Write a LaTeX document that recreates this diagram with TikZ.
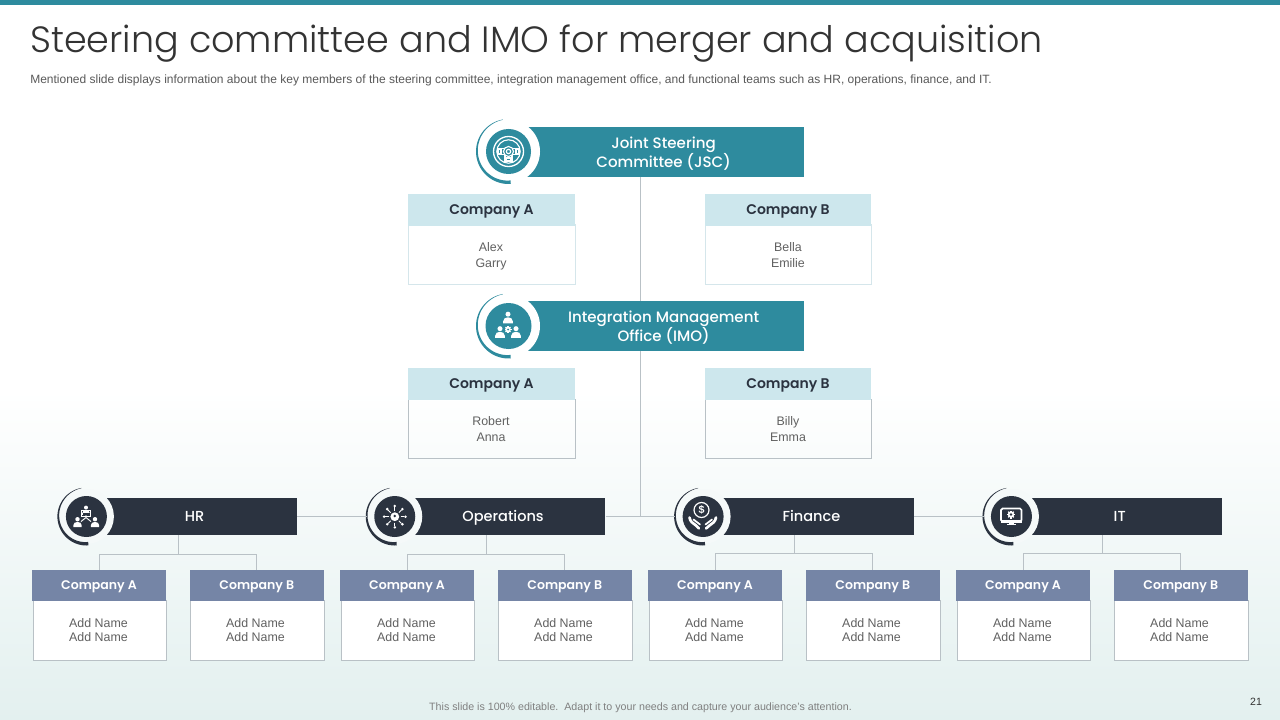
\documentclass[tikz,border=0pt]{standalone}
\usepackage{fontspec}
\setmainfont{Liberation Sans}
\newfontfamily\titlefont{Poppins Light}
\newfontfamily\headfont{Poppins SemiBold}
\newfontfamily\barfont{Poppins Medium}
\definecolor{teal}{HTML}{2E8B9E}
\definecolor{ink}{HTML}{2B3340}
\definecolor{slate}{HTML}{7585A6}
\definecolor{pale}{HTML}{CDE7ED}
\definecolor{lineg}{HTML}{B9C1C6}
\definecolor{paleline}{HTML}{D5E6EB}
\definecolor{tintbot}{HTML}{E3F0EF}
\definecolor{discbot}{HTML}{F5F9F9}
\def\px{0.75pt}
\tikzset{
  x=0.75pt,y=-0.75pt,
  conn/.style={draw=lineg,line width=0.75pt},
  barbase/.style={rectangle,inner sep=0pt,text=white,align=center},
  hdbase/.style={rectangle,inner sep=0pt,align=center},
  bodybase/.style={rectangle,inner sep=0pt,align=center,text=black!62},
  bodytop/.style={bodybase,font=\fontsize{9.3pt}{12pt}\selectfont},
  bodylow/.style={bodybase,font=\fontsize{9.3pt}{10.6pt}\selectfont},
  tophd/.style={hdbase,fill=pale,text=ink,font=\headfont\fontsize{10.5pt}{12pt}\selectfont},
  lowhd/.style={hdbase,fill=slate,text=white,font=\headfont\fontsize{9.4pt}{11pt}\selectfont},
  badgedisc/.style={circle,inner sep=0pt},
}
% zero-size text line, lowered so that its capitals are centred
\newcommand\capline[2]{\raisebox{-#1}[0pt][0pt]{#2}}
\newcommand\twoL[3]{\hspace*{#1}\capline{3.3pt}{#2}\\\hspace*{#1}\capline{3.3pt}{#3}}
\newcommand\spanbox[7]{%
  \node[#6,minimum width={(#4-#2)*\px},minimum height={(#5-#3)*\px}] (#1) at ({(#2+#4)/2},{(#3+#5)/2}) {#7};}
\newcommand\badge[8]{%
  \node[badgedisc,fill=#8,minimum size={2*#4*\px}] (#1d) at (#2,#3) {};
  \fill[#7] plot[domain=100:274,samples=40] ({#2+#6*cos(\x)},{#3-#6*sin(\x)})
    -- plot[domain=274:100,samples=40] ({#2+(#6-0.3-3.2*(\x-100)/174)*cos(\x)},{#3-(#6-0.3-3.2*(\x-100)/174)*sin(\x)}) -- cycle;
  \node[badgedisc,fill=#7,minimum size={2*#5*\px}] (#1c) at (#2,#3) {};}
\newcommand\personglyph[4]{% x y scale colour
  \begin{scope}[shift={(#1,#2)},scale=#3]
  \fill[#4] (0,-3.6) circle[radius=2.1];
  \fill[#4] (-4,4) -- (-4,2.2) .. controls (-4,0) and (-2,-1) .. (0,-1) .. controls (2,-1) and (4,0) .. (4,2.2) -- (4,4) -- cycle;
  \end{scope}}
\newcommand\cogglyph[4]{% x y r colour
  \begin{scope}[shift={(#1,#2)}]
  \foreach \a in {0,45,...,315}{\draw[#4,line width=0.9pt] (\a:#3*0.7) -- (\a:#3*1.25);}
  \fill[#4] (0,0) circle[radius=#3];
  \end{scope}}
\begin{document}
\begin{tikzpicture}
\useasboundingbox (0,0) rectangle (1280,720);
\fill[white] (0,0) rectangle (1280,720);
\shade[top color=white,bottom color=tintbot] (0,390) rectangle (1280,720);
\fill[teal] (0,0) rectangle (1280,5);

\node[anchor=base west,inner sep=0pt,text=black!80,font=\titlefont\fontsize{27.4pt}{32pt}\selectfont] (title) at (30,53) {Steering committee and IMO for merger and acquisition};
\node[anchor=west,inner sep=0pt,text=black!65,font=\fontsize{9pt}{10pt}\selectfont] (subtitle) at (30,80) {Mentioned slide displays information about the key members of the steering committee, integration management office, and functional teams such as HR, operations, finance, and IT.};
\node[inner sep=0pt,text=black!50,font=\fontsize{8pt}{9pt}\selectfont] (footer) at (640.5,708) {This slide is 100\% editable.\ \ Adapt it to your needs and capture your audience's attention.};
\node[inner sep=0pt,text=black!80,font=\fontsize{7.9pt}{9pt}\selectfont] (pageno) at (1256,702) {21};

% main bars
\spanbox{jsc}{508.5}{127}{804}{177}{barbase,fill=teal,font=\barfont\fontsize{11.3pt}{14.25pt}\selectfont}{\hspace*{11pt}\capline{4.4pt}{Joint Steering}\\\hspace*{11pt}\capline{4.4pt}{Committee (JSC)}}
\spanbox{imo}{508.5}{301}{804}{351}{barbase,fill=teal,font=\barfont\fontsize{11.3pt}{14.25pt}\selectfont}{\hspace*{11pt}\capline{4.4pt}{Integration Management}\\\hspace*{11pt}\capline{4.4pt}{Office (IMO)}}
\badge{jscb}{508.5}{151.5}{31.5}{22.5}{32.5}{teal}{white}
\badge{imob}{508.5}{326}{31.5}{23}{32.5}{teal}{white}

% top company boxes
\spanbox{jscAb}{408.5}{225}{575.5}{284.5}{bodytop,draw=paleline,fill=white,line width=0.75pt}{\twoL{-1.5pt}{Alex}{Garry}}
\spanbox{jscAh}{408}{194}{575}{226}{tophd}{\capline{3pt}{Company A}}
\spanbox{jscBb}{705.5}{225}{871.5}{284.5}{bodytop,draw=paleline,fill=white,line width=0.75pt}{\twoL{-0.75pt}{Bella}{Emilie}}
\spanbox{jscBh}{705}{194}{871}{226}{tophd}{\capline{3.6pt}{Company B}}
\spanbox{imoAb}{408.5}{399}{575.5}{458.5}{bodytop,draw=lineg,line width=0.75pt}{\twoL{-1.5pt}{Robert}{Anna}}
\spanbox{imoAh}{408}{368}{575}{400}{tophd}{\capline{3.4pt}{Company A}}
\spanbox{imoBb}{705.5}{399}{871.5}{458.5}{bodytop,draw=lineg,line width=0.75pt}{\twoL{-0.75pt}{Billy}{Emma}}
\spanbox{imoBh}{705}{368}{871}{400}{tophd}{\capline{3.4pt}{Company B}}

% functional teams
\foreach \nm/\lab/\k/\jy in {hr/HR/0/554,ops/Operations/1/554,fin/Finance/2/553,it/IT/3/553}{
  \pgfmathsetmacro{\cx}{86.4+308.35*\k}
  \pgfmathsetmacro{\bx}{297+308.33*\k}
  \pgfmathsetmacro{\ax}{32+308*\k}
  \pgfmathsetmacro{\axl}{33+308*\k}
  \pgfmathsetmacro{\axr}{166+308*\k}
  \pgfmathsetmacro{\bxl}{189.5+308*\k}
  \pgfmathsetmacro{\bxb}{190.5+308*\k}
  \pgfmathsetmacro{\bxr}{324+308*\k}
  \pgfmathsetmacro{\jx}{178+308.1*\k}
  \spanbox{\nm}{\cx}{498}{\bx}{535}{barbase,fill=ink,font=\barfont\fontsize{10.9pt}{13pt}\selectfont}{\hspace*{4.5pt}\capline{3.8pt}{\lab}}
  \badge{\nm b}{\cx}{516.5}{27.5}{20.5}{29}{ink}{discbot}
  \spanbox{\nm Ab}{\axl}{600}{\axr}{660.5}{bodylow,draw=lineg,fill=white,line width=0.75pt}{\twoL{-1.5pt}{Add Name}{Add Name}}
  \spanbox{\nm Ah}{\ax}{570}{\axr}{601}{lowhd}{\capline{3.3pt}{Company A}}
  \spanbox{\nm Bb}{\bxb}{600}{\bxr}{660.5}{bodylow,draw=lineg,fill=white,line width=0.75pt}{\twoL{-2.6pt}{Add Name}{Add Name}}
  \spanbox{\nm Bh}{\bxl}{570}{\bxr}{601}{lowhd}{\capline{3.3pt}{Company B}}
  \coordinate (\nm j) at (\jx,\jy);
  \draw[conn] (\nm j |- \nm.south) -- (\nm j);
  \draw[conn] (\nm Ah.north) -- (\nm Ah.north |- \nm j) -- (\nm Bh.north |- \nm j) -- (\nm Bh.north);
}
% connectors
\coordinate (trunkbase) at (640.5,516.5);
\draw[conn] (hr.east) -- (opsbd.west);
\draw[conn] (ops.east) -- (finbd.west);
\draw[conn] (fin.east) -- (itbd.west);
\draw[conn] (jsc.south -| trunkbase) -- (imo.north -| trunkbase);
\draw[conn] (imo.south -| trunkbase) -- (trunkbase);

% steering wheel icon
\begin{scope}[shift={(508.5,151.5)},white,line width=0.85pt]
  \draw[line width=1pt] (0,0) circle[radius=15];
  \draw (0,0) circle[radius=11.7];
  \draw (0,0) circle[radius=5];
  \draw (0,0) circle[radius=2.2];
  \draw (-11.5,-3) -- (-4.5,-3) (-11.5,3) -- (-4,3);
  \draw (11.5,-3) -- (4.5,-3) (11.5,3) -- (4,3);
  \draw (-3.5,4) -- (-3.5,11) (3.5,4) -- (3.5,11);
  \draw (-10.5,-1.7) rectangle (-7.5,1.7);
  \draw (10.5,-1.7) rectangle (7.5,1.7);
  \draw (-1.6,6.5) rectangle (1.6,9.5);
\end{scope}

% IMO icon
\personglyph{508}{318.5}{1.2}{white}
\personglyph{500}{333}{1.2}{white}
\personglyph{516}{333}{1.2}{white}
\cogglyph{508}{329.5}{2.8}{white}
\fill[teal] (508,329.5) circle[radius=1];

% HR icon
\begin{scope}[shift={(86,516.5)},white,line width=0.7pt]
  \draw (0,-4) -- (0,1) -- (-5,5) (0,1) -- (5,5);
\end{scope}
\personglyph{86}{511}{0.95}{white}
\fill[ink] (82.5,512.5) rectangle (89.5,515);
\draw[white,line width=0.6pt] (81.5,510.5) rectangle (90.5,516);
\personglyph{77.5}{523}{1.05}{white}
\personglyph{95}{523}{1.05}{white}

% Operations icon
\begin{scope}[shift={(394.8,516.7)}]
  \foreach \a in {0,45,...,315}{
    \draw[white,line width=0.65pt] (\a:5.8) -- (\a:9.5);
    \fill[white] (\a:10.7) circle[radius=1.4];
  }
  \fill[white] (0,0) circle[radius=4.4];
  \fill[ink] (0,-0.7) circle[radius=1.4];
\end{scope}

% Finance icon
\node[circle,draw=white,line width=0.9pt,inner sep=0pt,minimum size={15*\px},text=white,font=\bfseries\fontsize{8pt}{8pt}\selectfont] (coin) at (701.5,510) {\$};
\begin{scope}[shift={(703,516.5)},white,line cap=round,line join=round]
  \draw[line width=2pt] (-13.5,1) .. controls (-13,5) and (-10,7) .. (-7,9) -- (-4,12);
  \draw[line width=2pt] (13,1) .. controls (12.5,5) and (9.5,7) .. (6.5,9) -- (3,12);
  \draw[line width=1.3pt] (-9.5,3) -- (-3,8);
  \draw[line width=1.3pt] (9,3) -- (2.5,8);
\end{scope}

% IT icon
\begin{scope}[shift={(1011,516)}]
  \draw[white,line width=1.2pt,rounded corners=1.2] (-10,-7.5) rectangle (10.5,5.5);
  \fill[white] (-10,4) rectangle (10.5,6.5);
  \fill[white] (-2,6.5) rectangle (2.5,8.5);
  \fill[white] (-4,8) rectangle (4.5,9);
\end{scope}
\cogglyph{1011}{514.5}{3.2}{white}
\fill[ink] (1011,514.5) circle[radius=1.3];
\end{tikzpicture}
\end{document}
